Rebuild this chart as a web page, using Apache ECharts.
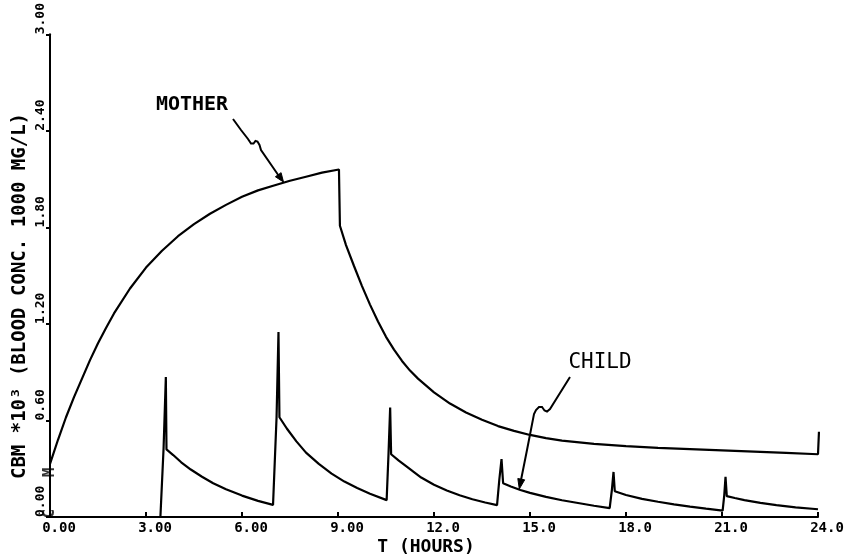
<!DOCTYPE html>
<html>
<head>
<meta charset="utf-8">
<script src="https://cdn.jsdelivr.net/npm/echarts@6/dist/echarts.min.js"></script>
<style>
html,body{margin:0;padding:0;background:#fff;}
#chart{width:848px;height:556px;}
</style>
</head>
<body>
<div id="chart"></div>
<script>
// ---- Data ----
const xTickLabels = ['0.00','3.00','6.00','9.00','12.0','15.0','18.0','21.0','24.0'];
const yTickLabels = ['0.00','0.60','1.20','1.80','2.40','3.00'];

// Mother blood concentration [T hours, CBM*10^3]
const motherT = [0,0.25,0.5,0.75,1,1.25,1.5,1.75,2,2.5,3,3.5,4,4.5,5,5.5,6,6.5,7,7.5,8,8.5,9.03,
                 9.06,9.25,9.5,9.75,10,10.25,10.5,10.75,11,11.25,11.5,12,12.5,13,13.5,14,14.5,15,15.5,16,17,18,19,20,21,22,23,24,24.03];
const motherV = [0.33,0.48,0.62,0.745,0.86,0.975,1.08,1.175,1.265,1.42,1.55,1.655,1.745,1.82,1.885,1.94,1.99,2.03,2.06,2.09,2.115,2.14,2.16,
                 1.81,1.69,1.56,1.435,1.32,1.215,1.12,1.04,0.97,0.91,0.86,0.775,0.705,0.65,0.605,0.565,0.535,0.51,0.49,0.475,0.455,0.44,0.43,0.422,0.414,0.406,0.398,0.39,0.53];

// Child blood concentration [T hours, CBM*10^3]
const childT = [0,3.45,3.55,3.62,3.64,3.85,4.1,4.4,4.75,5.1,5.5,6.0,6.5,6.97,
                7.08,7.14,7.17,7.4,7.7,8.0,8.4,8.8,9.2,9.6,10.0,10.52,
                10.58,10.63,10.66,10.9,11.2,11.6,12.0,12.4,12.8,13.2,13.6,13.97,
                14.04,14.11,14.16,14.4,14.7,15.0,15.5,16.0,16.5,17.0,17.49,
                17.56,17.61,17.65,18.0,18.5,19.0,19.5,20.0,20.5,21.02,
                21.07,21.11,21.15,21.4,21.7,22.2,22.7,23.3,24.0];
const childV = [0,0,0.43,0.87,0.42,0.385,0.34,0.295,0.25,0.21,0.172,0.133,0.10,0.075,
                0.62,1.15,0.62,0.55,0.47,0.40,0.33,0.27,0.22,0.18,0.145,0.105,
                0.40,0.68,0.39,0.35,0.305,0.245,0.20,0.165,0.135,0.11,0.09,0.074,
                0.23,0.36,0.21,0.19,0.168,0.15,0.125,0.104,0.087,0.07,0.055,
                0.17,0.28,0.16,0.137,0.113,0.095,0.079,0.065,0.052,0.04,
                0.135,0.25,0.13,0.118,0.105,0.088,0.074,0.06,0.048];

// curve start markers
const markerLabels = ['M','C'];
const markerPoints = [[0,0.277],[0,0.02]];

// ---- Chart ----
const FONT = '"DejaVu Sans Mono", monospace';
const chart = echarts.init(document.getElementById('chart'), null, {renderer:'canvas'});

const zip = (a,b) => a.map((t,i) => [t,b[i]]);

function arrowHead(tip, from, len, hw) {
  const dx = tip[0]-from[0], dy = tip[1]-from[1];
  const L = Math.hypot(dx,dy), ux = dx/L, uy = dy/L;
  const bx = tip[0]-ux*len, by = tip[1]-uy*len;
  return [tip, [bx - uy*hw, by + ux*hw], [bx + uy*hw, by - ux*hw]];
}

const motherArrow = [[233,119],[241,130],[248,139],[251,143.5],[253.5,143.5],[255.5,141],[257.5,141.5],[259.5,145],[261,150],[272,166],[282,180.5]];
const childArrow = [[570,377],[560,393],[550,409],[547,411.5],[544.5,410.5],[542,407],[539,407],[536,410],[534,414],[527,450],[520,485]];

const option = {
  backgroundColor: '#ffffff',
  animation: false,
  grid: {left: 50, right: 30, top: 29, bottom: 39, containLabel: false},
  xAxis: {
    type: 'value', min: 0, max: 24, interval: 3,
    axisLine: {show: true, onZero: false, lineStyle: {color: '#000', width: 2}},
    axisTick: {show: true, inside: true, length: 5, lineStyle: {color: '#000', width: 2}},
    splitLine: {show: false},
    axisLabel: {
      color: '#000', fontFamily: FONT, fontWeight: 'bold', fontSize: 14, margin: 4,
      align: 'center', padding: [0,0,0,18],
      formatter: v => xTickLabels[Math.round(v/3)]
    }
  },
  yAxis: {
    type: 'value', min: 0, max: 3, interval: 0.6,
    axisLine: {show: true, onZero: false, lineStyle: {color: '#000', width: 2}},
    axisTick: {show: true, inside: false, length: 4, lineStyle: {color: '#000', width: 2}},
    splitLine: {show: false},
    axisLabel: {
      color: '#000', fontFamily: FONT, fontWeight: 'bold', fontSize: 13, margin: 3,
      rotate: 90, align: 'left',
      formatter: v => yTickLabels[Math.round(v/0.6)]
    }
  },
  series: [
    {
      name: 'MOTHER', type: 'line', data: zip(motherT, motherV),
      showSymbol: false, symbol: 'none', smooth: false,
      lineStyle: {color: '#000', width: 2.2}, z: 3
    },
    {
      name: 'CHILD', type: 'line', data: zip(childT, childV),
      showSymbol: false, symbol: 'none', smooth: false,
      lineStyle: {color: '#000', width: 2.2}, z: 3
    },
    {
      type: 'scatter', data: markerPoints.map((p,i) => ({value: p, name: markerLabels[i]})),
      symbolSize: 0.1, itemStyle: {color: 'transparent'},
      label: {
        show: true, position: 'inside', rotate: 90, formatter: p => p.name,
        color: '#000', fontFamily: FONT, fontWeight: 'bold', fontSize: 16
      }, z: 4
    }
  ],
  graphic: [
    {
      type: 'text', x: 20, y: 296, rotation: Math.PI/2,
      style: {text: 'CBM *10³ (BLOOD CONC. 1000 MG/L)', fontFamily: FONT, fontWeight: 'bold',
              fontSize: 19, fill: '#000', align: 'center', verticalAlign: 'middle'}
    },
    {
      type: 'text', x: 426, y: 547,
      style: {text: 'T (HOURS)', fontFamily: FONT, fontWeight: 'bold',
              fontSize: 18, fill: '#000', align: 'center', verticalAlign: 'middle'}
    },
    {
      type: 'text', x: 192, y: 105,
      style: {text: 'MOTHER', fontFamily: FONT, fontWeight: 'bold',
              fontSize: 20, fill: '#000', align: 'center', verticalAlign: 'middle'}
    },
    {
      type: 'text', x: 600, y: 363,
      style: {text: 'CHILD', fontFamily: FONT, fontWeight: 'normal',
              fontSize: 21, fill: '#000', align: 'center', verticalAlign: 'middle'}
    },
    {
      type: 'polyline', shape: {points: motherArrow},
      style: {stroke: '#000', lineWidth: 2, fill: null}
    },
    {
      type: 'polygon', shape: {points: arrowHead([283.5,182],[272,166],9,3.5)},
      style: {fill: '#000', stroke: '#000', lineWidth: 1}
    },
    {
      type: 'polyline', shape: {points: childArrow},
      style: {stroke: '#000', lineWidth: 2, fill: null}
    },
    {
      type: 'polygon', shape: {points: arrowHead([519.3,489],[527,450],10,3.5)},
      style: {fill: '#000', stroke: '#000', lineWidth: 1}
    }
  ]
};
chart.setOption(option);
</script>
</body>
</html>
